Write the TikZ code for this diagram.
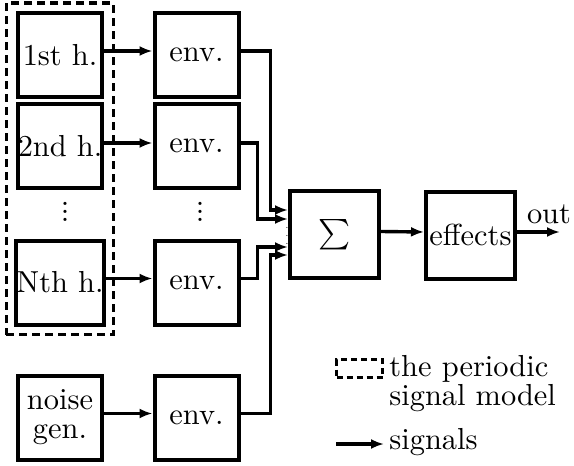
\documentclass[tikz,border=0pt]{standalone}
\usepackage{amsmath, amssymb}
\usepackage{fontspec}
\setmainfont{lmroman10-regular.otf}[BoldFont=lmroman10-bold.otf, ItalicFont=lmroman10-italic.otf]
\usepackage{tikz}
\usetikzlibrary{positioning, arrows.meta, fit, calc}

\begin{document}
\begin{tikzpicture}[
    x=0.5pt, y=-0.5pt,
    font=\fontsize{15.2pt}{14.5pt}\selectfont,
    block/.style={draw, line width=2pt, minimum width=42pt, minimum height=42pt, inner sep=0pt},
    bigblock/.style={block, minimum width=44.5pt, minimum height=43.5pt},
    periodic/.style={draw, line width=1.6pt, dash pattern=on 4pt off 2.5pt},
    sig/.style={line width=1.7pt, -{Latex[length=6.5pt, width=5pt]}}
  ]
    \useasboundingbox (0,0) rectangle (574,466);

    % Harmonics and noise
    \node[block] (h1) at (60, 55) {1st h.};
    \node[block] (h2) at (60, 146) {2nd h.};
    \node (hdots) at (65, 206) {$\vdots$};
    \node[block] (hN) at (60, 282.5) {Nth h.};
    \node[block, align=center] (noise) at (60, 417.5) {noise\\gen.};

    % Periodic model frame
    \node[periodic, fit=(h1)(hN), inner sep=4pt] (model) {};

    % Envelopes
    \node[block] (e1) at (196.5, 55) {env.};
    \node[block] (e2) at (196.5, 146) {env.};
    \node (edots) at (200, 206) {$\vdots$};
    \node[block] (eN) at (196.5, 282.5) {env.};
    \node[block] (en) at (196.5, 417.5) {env.};

    % Sum and effects
    \node[bigblock] (sum) at (334.5, 234.5) {$\textstyle\sum$};
    \node[bigblock] (fx) at (470.5, 235) {effects};
    \node[font=\tiny] (sdots) at (287, 230) {$\vdots$};
    \coordinate (out) at (560, 232);
    \node (outlbl) at (549, 214) {out};

    % Signals
    \draw[sig] ([yshift=2pt]h1.east) -- ([yshift=2pt]e1.west);
    \draw[sig] ([yshift=1.5pt]h2.east) -- ([yshift=1.5pt]e2.west);
    \draw[sig] ([yshift=2pt]hN.east) -- ([yshift=2pt]eN.west);
    \draw[sig] ([yshift=2pt]noise.east) -- ([yshift=2pt]en.west);
    \draw[sig] ([yshift=2pt]e1.east) -- ++(30,0) |- ($(sum.west)+(0,-24.5)$);
    \draw[sig] ([yshift=1.5pt]e2.east) -- ++(17,0) |- ($(sum.west)+(0,-15.5)$);
    \draw[sig] ([yshift=2pt]eN.east) -- ++(17,0) |- ($(sum.west)+(0,12.5)$);
    \draw[sig] ([yshift=2pt]en.east) -- ++(30,0) |- ($(sum.west)+(0,20.5)$);
    \draw[sig] ([yshift=1.5pt]sum.east) -- ([yshift=1.5pt]fx.west);
    \draw[sig] ([yshift=1.5pt]fx.east) -- (out);

    % Legend
    \node[periodic, line width=1.4pt, dash pattern=on 3pt off 2pt, minimum width=23pt, minimum height=9pt, inner sep=0pt] (legbox) at (359.5, 368.5) {};
    \node[anchor=north west, align=left, inner sep=0pt] (legtxt) at (389, 355) {the periodic\\signal model};
    \coordinate (legA) at (336, 444);
    \coordinate (legB) at (384, 444);
    \draw[sig] (legA) -- (legB);
    \node[anchor=west, inner sep=0pt] (legsig) at (389, 442) {signals};
  \end{tikzpicture}
\end{document}
